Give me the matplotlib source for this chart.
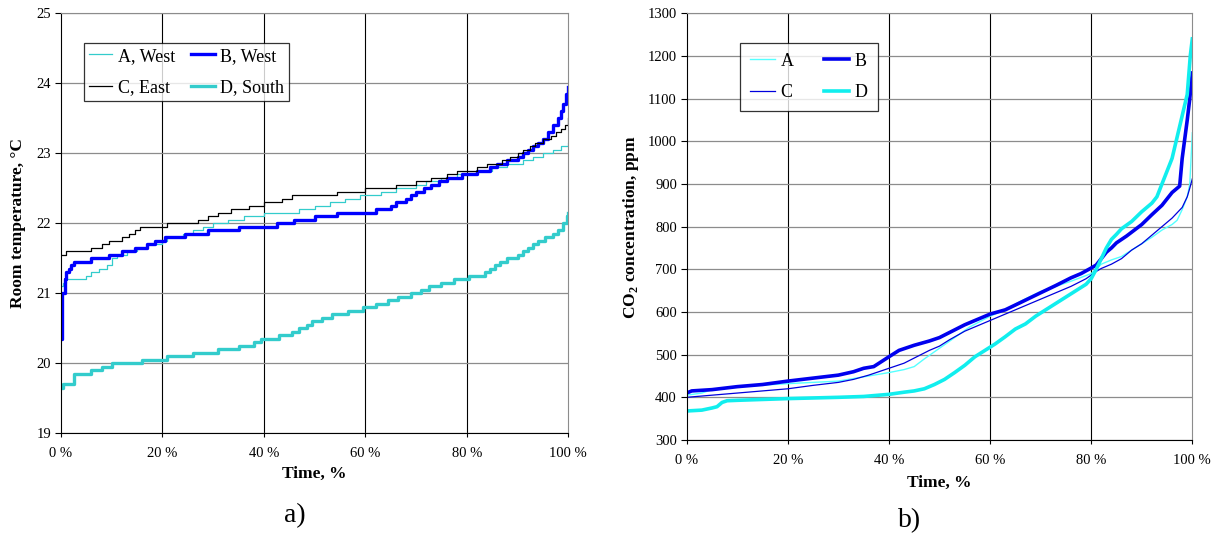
import numpy as np
import matplotlib.pyplot as plt

plt.rcParams['font.family'] = ['Liberation Serif', 'DejaVu Serif']
plt.rcParams['mathtext.fontset'] = 'custom'
plt.rcParams['mathtext.rm'] = 'Liberation Serif'
plt.rcParams['mathtext.bf'] = 'Liberation Serif:bold'

# ---- a) room temperature duration curves (time %, degC) ----
tA = [0, 0.5, 1, 5, 6, 7.5, 9, 10, 11, 13, 15, 17, 20, 21, 24, 26, 28, 30, 33, 36, 40, 47, 50, 53, 56, 59,
      63, 66, 70, 72, 75, 78, 82, 85, 88, 91, 93, 95, 97, 98.5, 100]
vA = [21.1, 21.15, 21.2, 21.25, 21.3, 21.35, 21.4, 21.5, 21.55, 21.6, 21.65, 21.7, 21.75, 21.8, 21.85, 21.9,
      21.95, 22.0, 22.05, 22.1, 22.15, 22.2, 22.25, 22.3, 22.35, 22.4, 22.45, 22.5, 22.55, 22.6, 22.65, 22.7,
      22.75, 22.8, 22.85, 22.9, 22.95, 23.0, 23.05, 23.1, 23.15]

tB = [0, 0.3, 0.7, 1, 1.5, 2, 2.5, 6, 9.5, 12, 14.5, 17, 18.5, 20.5, 24.5, 29, 35, 42.5, 46, 50, 54.5, 62,
      65, 66, 68, 69, 70, 71.5, 73, 74.5, 76, 79, 82, 84.5, 86, 88, 90, 91, 92, 93, 94, 95, 96, 97, 98, 98.5,
      99, 99.5, 100]
vB = [20.35, 21.0, 21.2, 21.3, 21.35, 21.4, 21.45, 21.5, 21.55, 21.6, 21.65, 21.7, 21.75, 21.8, 21.85, 21.9,
      21.95, 22.0, 22.05, 22.1, 22.15, 22.2, 22.25, 22.3, 22.35, 22.4, 22.45, 22.5, 22.55, 22.6, 22.65, 22.7,
      22.75, 22.8, 22.85, 22.9, 22.95, 23.0, 23.05, 23.1, 23.15, 23.2, 23.3, 23.4, 23.5, 23.6, 23.7, 23.85, 23.95]

tC = [0, 1, 6, 8, 9.5, 12, 13.5, 14.5, 15.5, 21, 27, 29, 31, 33.5, 37, 40, 43.5, 45.5, 54.5, 60, 66, 70, 73,
      76, 78, 82, 84, 87, 88.5, 90, 91, 92.5, 93.5, 95, 96.5, 97.5, 98.5, 99.3, 100]
vC = [21.55, 21.6, 21.65, 21.7, 21.75, 21.8, 21.85, 21.9, 21.95, 22.0, 22.05, 22.1, 22.15, 22.2, 22.25, 22.3,
      22.35, 22.4, 22.45, 22.5, 22.55, 22.6, 22.65, 22.7, 22.75, 22.8, 22.85, 22.9, 22.95, 23.0, 23.05, 23.1,
      23.15, 23.2, 23.25, 23.3, 23.35, 23.4, 23.5]

tD = [0, 0.5, 2.5, 6, 8, 10, 16, 21, 26, 31, 35, 38, 39.5, 43, 45.5, 47, 48.5, 49.5, 51.5, 53.5, 56.5, 59.5,
      62, 64.5, 66.5, 69, 71, 72.5, 75, 77.5, 80.5, 83.5, 84.5, 85.5, 86.5, 88, 90, 91, 92, 93, 94, 95.5, 97,
      98, 99, 99.7, 100]
vD = [19.65, 19.7, 19.85, 19.9, 19.95, 20.0, 20.05, 20.1, 20.15, 20.2, 20.25, 20.3, 20.35, 20.4, 20.45, 20.5,
      20.55, 20.6, 20.65, 20.7, 20.75, 20.8, 20.85, 20.9, 20.95, 21.0, 21.05, 21.1, 21.15, 21.2, 21.25, 21.3,
      21.35, 21.4, 21.45, 21.5, 21.55, 21.6, 21.65, 21.7, 21.75, 21.8, 21.85, 21.9, 22.0, 22.1, 22.15]

# ---- b) CO2 duration curves (time %, ppm) ----
cA_t = [0, 3, 5, 10, 20, 30, 35, 40, 43, 45, 47, 50, 53, 56, 60, 63, 66, 70, 73, 76, 80, 82, 84, 86, 88, 90,
        92, 94, 96, 97, 98, 99, 99.5, 100]
cA_v = [405, 410, 418, 425, 432, 438, 448, 458, 465, 472, 490, 515, 540, 565, 590, 605, 625, 648, 660, 672,
        690, 712, 722, 730, 745, 760, 775, 792, 805, 815, 840, 870, 900, 1020]

cB_t = [0, 1, 5, 10, 15, 20, 25, 30, 33, 35, 37, 40, 42, 45, 48, 50, 52, 55, 58, 60, 63, 66, 70, 73, 76, 78,
        80, 81, 82, 83, 84, 85, 87, 90, 92, 94, 95, 96, 97.5, 98, 99, 99.5, 100]
cB_v = [410, 415, 418, 425, 430, 438, 445, 452, 460, 468, 472, 495, 510, 522, 532, 540, 552, 570, 585, 595,
        605, 622, 645, 662, 680, 690, 703, 710, 725, 740, 750, 762, 778, 805, 828, 850, 865, 880, 895, 960,
        1050, 1100, 1160]

cC_t = [0, 5, 10, 15, 20, 25, 30, 33, 36, 40, 43, 46, 48, 50, 52, 55, 58, 60, 63, 66, 70, 73, 76, 79, 81, 82,
        84, 86, 88, 90, 92, 94, 96, 98, 99, 99.5, 100]
cC_v = [400, 405, 410, 415, 420, 428, 435, 442, 452, 468, 480, 498, 510, 520, 535, 555, 570, 580, 595, 610,
        630, 645, 660, 678, 695, 702, 712, 725, 745, 760, 780, 800, 820, 845, 870, 890, 912]

cD_t = [0, 3, 5, 6, 7, 8, 10, 15, 20, 30, 35, 40, 43, 45, 47, 49, 51, 53, 55, 57, 59, 61, 63, 65, 67, 69, 71,
        73, 75, 77, 79, 80, 81, 82, 83, 84, 85, 86, 88, 90, 92, 93, 94, 95, 96, 97, 98, 99, 99.6, 100]
cD_v = [368, 370, 375, 378, 388, 392, 393, 395, 397, 400, 402, 407, 412, 415, 420, 430, 442, 458, 475, 495,
        510, 525, 542, 560, 572, 590, 605, 620, 635, 650, 665, 678, 700, 725, 750, 770, 782, 795, 812, 835,
        855, 870, 900, 930, 960, 1010, 1060, 1110, 1200, 1240]

pct_ticks = [0, 20, 40, 60, 80, 100]
pct_labels = ['0 %', '20 %', '40 %', '60 %', '80 %', '100 %']

fig = plt.figure(figsize=(12.19, 5.4), dpi=100)
ax1 = fig.add_axes([0.0500, 0.1981, 0.4162, 0.7772])
ax2 = fig.add_axes([0.5633, 0.1852, 0.4148, 0.7902])


def style_axes(ax):
    ax.set_xlim(0, 100)
    ax.set_xticks(pct_ticks)
    ax.set_xticklabels(pct_labels)
    for x in pct_ticks[1:-1]:
        ax.axvline(x, color='black', lw=0.8, zorder=0)
    ax.yaxis.grid(True, color='#8c8c8c', lw=0.9, zorder=0)
    ax.set_axisbelow(True)
    ax.spines['top'].set_color('#8c8c8c')
    ax.spines['right'].set_color('#8c8c8c')
    ax.tick_params(axis='x', direction='out', length=3, width=0.8, labelsize=10.5, pad=7)
    ax.tick_params(axis='y', direction='out', length=4, width=0.8, labelsize=10.5, pad=3)
    ax.set_xlabel('Time, %', fontsize=12.5, fontweight='bold')


def ordered_legend(ax, lines, **kw):
    # reference legend reads row-wise: A B / C D
    order = [lines[0], lines[2], lines[1], lines[3]]
    leg = ax.legend(order, [l.get_label() for l in order], ncol=2, loc='upper left', fontsize=13,
                    frameon=True, fancybox=False, edgecolor='black', handletextpad=0.3,
                    borderaxespad=0, **kw)
    leg.get_frame().set_linewidth(0.9)
    return leg


l1 = ax1.plot(tA, vA, color='#33cccc', lw=0.9, drawstyle='steps-post', label='A, West')
l1 += ax1.plot(tB, vB, color='#0000ff', lw=2.4, drawstyle='steps-post', label='B, West')
l1 += ax1.plot(tC, vC, color='black', lw=0.9, drawstyle='steps-post', label='C, East')
l1 += ax1.plot(tD, vD, color='#33cccc', lw=2.4, drawstyle='steps-post', label='D, South')
ax1.set_ylim(19, 25)
ax1.set_yticks(np.arange(19, 26, 1))
style_axes(ax1)
ax1.set_ylabel('Room temperature, °C', fontsize=12.5, fontweight='bold')
ax1.yaxis.set_label_coords(-0.069, 0.5)
ax1.xaxis.set_label_coords(0.5, -0.079)
ordered_legend(ax1, l1, bbox_to_anchor=(0.046, 0.929), handlelength=1.3, columnspacing=0.9,
               labelspacing=0.8, borderpad=0.25)

l2 = ax2.plot(cA_t, cA_v, color='#55ffff', lw=1.0, label='A')
l2 += ax2.plot(cB_t, cB_v, color='#0000ee', lw=2.6, label='B')
l2 += ax2.plot(cC_t, cC_v, color='#0000dd', lw=0.9, label='C')
l2 += ax2.plot(cD_t, cD_v, color='#11eeee', lw=2.6, label='D')
ax2.set_ylim(300, 1300)
ax2.set_yticks(np.arange(300, 1301, 100))
style_axes(ax2)
ax2.set_ylabel(r'CO$_\mathbf{2}$ concentration, ppm', fontsize=12.5, fontweight='bold')
ax2.yaxis.set_label_coords(-0.091, 0.5)
ax2.xaxis.set_label_coords(0.5, -0.082)
ordered_legend(ax2, l2, bbox_to_anchor=(0.105, 0.931), handlelength=1.4, columnspacing=1.7,
               labelspacing=0.8, borderpad=0.55)

fig.text(0.242, 0.0444, 'a)', fontsize=20, ha='center', va='center')
fig.text(0.7465, 0.035, 'b)', fontsize=20, ha='center', va='center')

fig.savefig('out.png', dpi=100)
